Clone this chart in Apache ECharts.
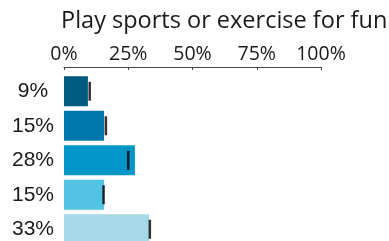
<!DOCTYPE html>
<html>
<head>
<meta charset="utf-8">
<script src="https://cdn.jsdelivr.net/npm/echarts@6/dist/echarts.min.js"></script>
<style>
  html, body { margin: 0; padding: 0; background: #fff; }
  #chart { width: 389px; height: 241px; }
</style>
</head>
<body>
<div id="chart"></div>
<script>
// labels shown at the left are the rounded shares
var labels = ['9%', '15%', '28%', '15%', '33%'];
var shares = [9.3, 15.6, 27.6, 15.6, 33.1];
// black marker lines (comparison value)
var marks = [10.0, 16.3, 25.0, 15.4, 33.4];
var ticks = [0, 25, 50, 75, 100];

var colors = ['#015a80', '#0077aa', '#0096c8', '#52c3e2', '#a6d9e8'];

var chart = echarts.init(document.getElementById('chart'));

var option = {
	animation: false,
	title: {
		text: 'Play sports or exercise for fun',
		left: 56,
		top: 4,
		textStyle: {
			fontFamily: 'Open Sans',
			fontWeight: 'normal',
			fontSize: 23.5,
			color: '#1a1a1a'
		}
	},
	grid: {
		left: 64,
		width: 257,
		top: 74,
		height: 172.5,
		outerBoundsMode: 'none'
	},
	xAxis: {
		type: 'value',
		position: 'top',
		offset: 7,
		min: ticks[0],
		max: ticks[ticks.length - 1],
		interval: 25,
		splitLine: { show: false },
		axisLine: { show: true, lineStyle: { color: '#444', width: 1 } },
		axisTick: { show: true, inside: true, length: 3, lineStyle: { color: '#444' } },
		axisLabel: {
			formatter: '{value}%',
			margin: 3,
			fontFamily: 'Open Sans',
			fontSize: 19.5,
			color: '#1a1a1a'
		}
	},
	yAxis: {
		type: 'category',
		inverse: true,
		data: labels,
		axisLine: { show: false },
		axisTick: { show: false },
		axisLabel: {
			margin: 31,
			align: 'center',
			fontFamily: 'Liberation Sans',
			fontSize: 21,
			color: '#1a1a1a'
		}
	},
	series: [
		{
			type: 'bar',
			barWidth: 30,
			data: shares.map(function(v, i) {
				return { value: v, itemStyle: { color: colors[i] } };
			}),
			z: 2
		},
		{
			type: 'scatter',
			symbol: 'rect',
			symbolSize: [2.5, 19],
			itemStyle: { color: '#000' },
			data: marks.map(function(v, i) { return [v, i]; }),
			z: 3
		}
	]
};

chart.setOption(option);
</script>
</body>
</html>
